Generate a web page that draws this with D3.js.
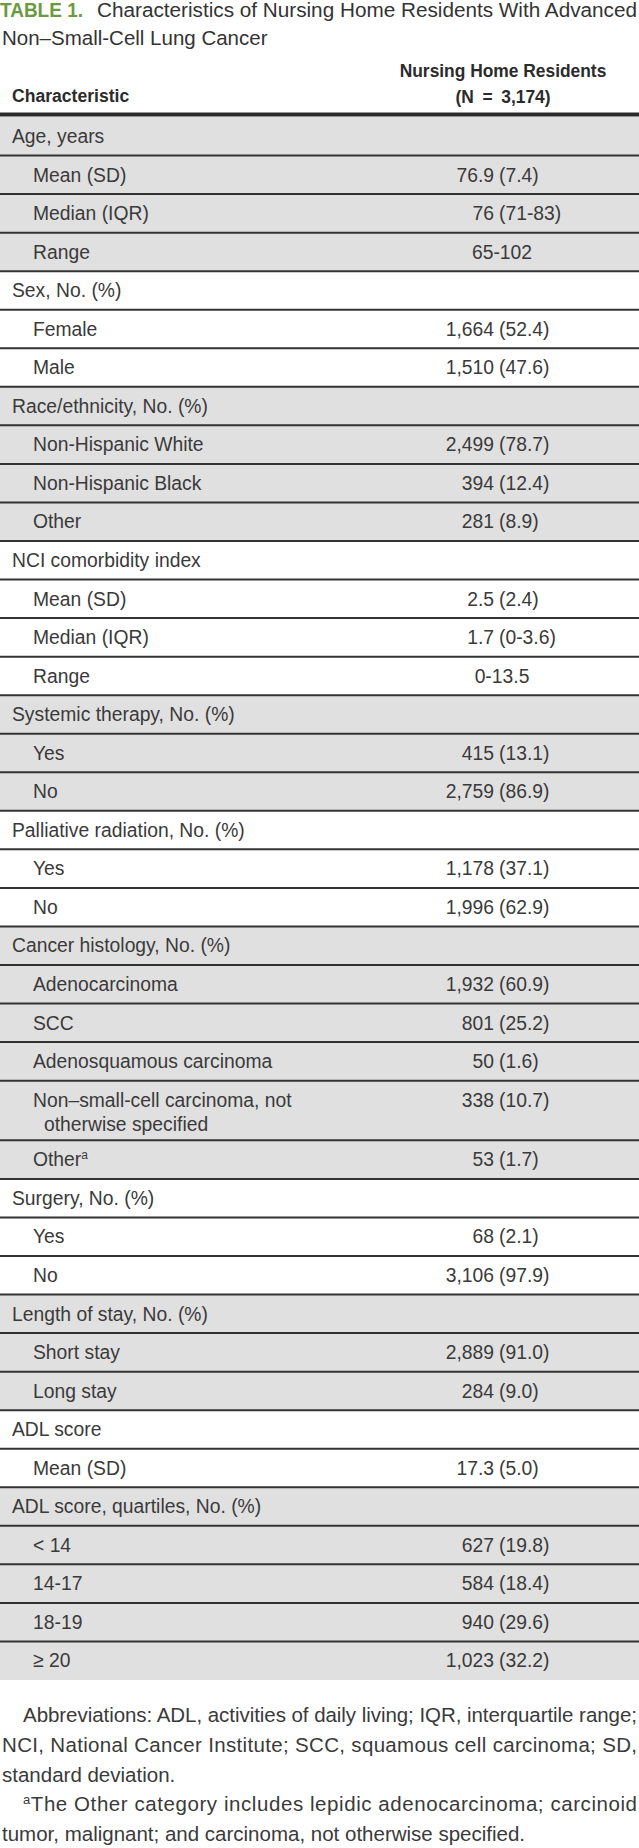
<!DOCTYPE html>
<html>
<head>
<meta charset="utf-8">
<script src="https://cdn.jsdelivr.net/npm/d3@7"></script>
<style>
  body { margin: 0; background: #fff; }
  svg text { font-family: 'Liberation Sans', Arial, sans-serif; fill: #3a3a3a; }
</style>
</head>
<body>
<svg id="chart" width="639" height="1848"></svg>
<script>
// judul tabel
var titleTag = "TABLE 1.";
var titleLine1 = "Characteristics of Nursing Home Residents With Advanced";
var titleLine2 = "Non\u2013Small-Cell Lung Cancer";

// header kolom
var colHeader = ["Characteristic", "Nursing Home Residents", "(N\u2002=\u20023,174)"];

// tiap section: judul, label baris, nilai baris
var sectionTitles = [
  "Age, years",
  "Sex, No. (%)",
  "Race/ethnicity, No. (%)",
  "NCI comorbidity index",
  "Systemic therapy, No. (%)",
  "Palliative radiation, No. (%)",
  "Cancer histology, No. (%)",
  "Surgery, No. (%)",
  "Length of stay, No. (%)",
  "ADL score",
  "ADL score, quartiles, No. (%)"
];

var sectionLabels = [
  ["Mean (SD)", "Median (IQR)", "Range"],
  ["Female", "Male"],
  ["Non-Hispanic White", "Non-Hispanic Black", "Other"],
  ["Mean (SD)", "Median (IQR)", "Range"],
  ["Yes", "No"],
  ["Yes", "No"],
  ["Adenocarcinoma", "SCC", "Adenosquamous carcinoma",
   ["Non\u2013small-cell carcinoma, not", "otherwise specified"], "Other^a"],
  ["Yes", "No"],
  ["Short stay", "Long stay"],
  ["Mean (SD)"],
  ["< 14", "14-17", "18-19", "\u2265 20"]
];

var sectionValues = [
  ["76.9 (7.4)", "76 (71-83)", "65-102"],
  ["1,664 (52.4)", "1,510 (47.6)"],
  ["2,499 (78.7)", "394 (12.4)", "281 (8.9)"],
  ["2.5 (2.4)", "1.7 (0-3.6)", "0-13.5"],
  ["415 (13.1)", "2,759 (86.9)"],
  ["1,178 (37.1)", "1,996 (62.9)"],
  ["1,932 (60.9)", "801 (25.2)", "50 (1.6)", "338 (10.7)", "53 (1.7)"],
  ["68 (2.1)", "3,106 (97.9)"],
  ["2,889 (91.0)", "284 (9.0)"],
  ["17.3 (5.0)"],
  ["627 (19.8)", "584 (18.4)", "940 (29.6)", "1,023 (32.2)"]
];

// catatan kaki
var footnotes = [
  {text: "Abbreviations: ADL, activities of daily living; IQR, interquartile range;", indent: true, justify: true},
  {text: "NCI, National Cancer Institute; SCC, squamous cell carcinoma; SD,", indent: false, justify: true},
  {text: "standard deviation.", indent: false, justify: false},
  {text: "^aThe Other category includes lepidic adenocarcinoma; carcinoid", indent: true, justify: true},
  {text: "tumor, malignant; and carcinoma, not otherwise specified.", indent: false, justify: false}
];

var svg = d3.select("#chart");
var width = +svg.attr("width");

var grey = "#e1e0e1";
var lineColor = "#333";
var fontSize = 21;
var squeeze = 0.92;  // huruf condensed disimulasikan dengan scale horizontal

// teks dengan scale horizontal
function txt(parent, x, yy, size, sx) {
  var g = parent.append("g")
    .attr("transform", "translate(" + x + "," + yy + ") scale(" + sx + ",1)");
  return g.append("text").attr("x", 0).attr("y", 0).attr("font-size", size);
}

// susun baris
var rows = [];
sectionTitles.forEach(function(t, si) {
  rows.push({label: t, value: "", level: 0, section: si, units: 1});
  sectionLabels[si].forEach(function(l, ri) {
    rows.push({label: l, value: sectionValues[si][ri], level: 1, section: si, units: Array.isArray(l) ? 1.55 : 1});
  });
});
var acc = 0;
rows.forEach(function(r) { r.start = acc; acc += r.units; r.end = acc; });

var tableTop = 117, tableBottom = 1680;
var y = d3.scaleLinear().domain([0, acc]).range([tableTop, tableBottom]);
var parenX = 499, valueCenter = 502;

// judul
svg.append("text").attr("x", 0).attr("y", 17).attr("font-size", 20)
  .attr("font-weight", "bold").attr("textLength", 83).attr("lengthAdjust", "spacingAndGlyphs")
  .style("fill", "#6b9a40").text(titleTag);
svg.append("text").attr("x", 97).attr("y", 17).attr("font-size", 20)
  .attr("textLength", 540).attr("lengthAdjust", "spacingAndGlyphs")
  .style("fill", "#333").text(titleLine1);
svg.append("text").attr("x", 2).attr("y", 45).attr("font-size", 20.5)
  .style("fill", "#333").text(titleLine2);

// header
txt(svg, 12, 102, 18.5, 0.95).attr("font-weight", "bold").style("fill", "#2b2b2b").text(colHeader[0]);
txt(svg, 503, 77, 18.5, 0.94).attr("font-weight", "bold").attr("text-anchor", "middle")
  .style("fill", "#2b2b2b").text(colHeader[1]);
txt(svg, 503, 103, 18.5, 0.94).attr("font-weight", "bold").attr("text-anchor", "middle")
  .style("fill", "#2b2b2b").text(colHeader[2]);

// latar abu-abu untuk section genap
svg.append("g").selectAll("rect")
  .data(rows.filter(function(r) { return r.section % 2 === 0; }))
  .enter().append("rect")
  .attr("x", 0).attr("width", width)
  .attr("y", function(d) { return y(d.start); })
  .attr("height", function(d) { return y(d.end) - y(d.start); })
  .attr("fill", grey);

// garis antar baris
svg.append("g").selectAll("line")
  .data(rows.slice(0, rows.length - 1))
  .enter().append("line")
  .attr("x1", 0).attr("x2", width)
  .attr("y1", function(d) { return y(d.end); })
  .attr("y2", function(d) { return y(d.end); })
  .attr("stroke", lineColor).attr("stroke-width", 2);

// garis tebal header
svg.append("line").attr("x1", 0).attr("x2", width).attr("y1", 114.5).attr("y2", 114.5)
  .attr("stroke", "#2a2a2a").attr("stroke-width", 4);

function addText(sel, str) {
  var parts = str.split("^");
  sel.append("tspan").text(parts[0]);
  if (parts.length > 1) {
    sel.append("tspan").attr("font-size", fontSize * 0.62).attr("dy", -7).text(parts[1].charAt(0));
    if (parts[1].length > 1) sel.append("tspan").attr("dy", 7).text(parts[1].slice(1));
  }
}

// label dan nilai baris
var labels = svg.append("g").selectAll("g.lbl")
  .data(rows).enter().append("g").attr("class", "lbl");

labels.each(function(d) {
  var g = d3.select(this);
  var base = y(d.start) + 26;
  var x = d.level === 0 ? 12 : 33;
  if (Array.isArray(d.label)) {
    txt(g, x, base, fontSize, squeeze).text(d.label[0]);
    txt(g, x + 11, base + 24, fontSize, squeeze).text(d.label[1]);
  } else {
    addText(txt(g, x, base, fontSize, squeeze), d.label);
  }
  // nilai, rata pada tanda kurung
  if (d.value) {
    var i = d.value.indexOf(" (");
    if (i >= 0) {
      txt(g, parenX - 5, base, fontSize, squeeze).attr("text-anchor", "end").text(d.value.slice(0, i));
      txt(g, parenX, base, fontSize, squeeze).text(d.value.slice(i + 1));
    } else {
      txt(g, valueCenter, base, fontSize, squeeze).attr("text-anchor", "middle").text(d.value);
    }
  }
});

// catatan kaki
footnotes.forEach(function(f, i) {
  var x = f.indent ? 23 : 2;
  var t = svg.append("text").attr("x", x).attr("y", 1722 + i * 29.8).attr("font-size", 20.5);
  if (f.justify) t.attr("textLength", 637 - x).attr("lengthAdjust", "spacing");
  var parts = f.text.split("^");
  if (parts.length > 1) {
    t.append("tspan").attr("font-size", 13).attr("dy", -7).text(parts[1].charAt(0));
    t.append("tspan").attr("dy", 7).text(parts[1].slice(1));
  } else {
    t.text(f.text);
  }
});
</script>
</body>
</html>
